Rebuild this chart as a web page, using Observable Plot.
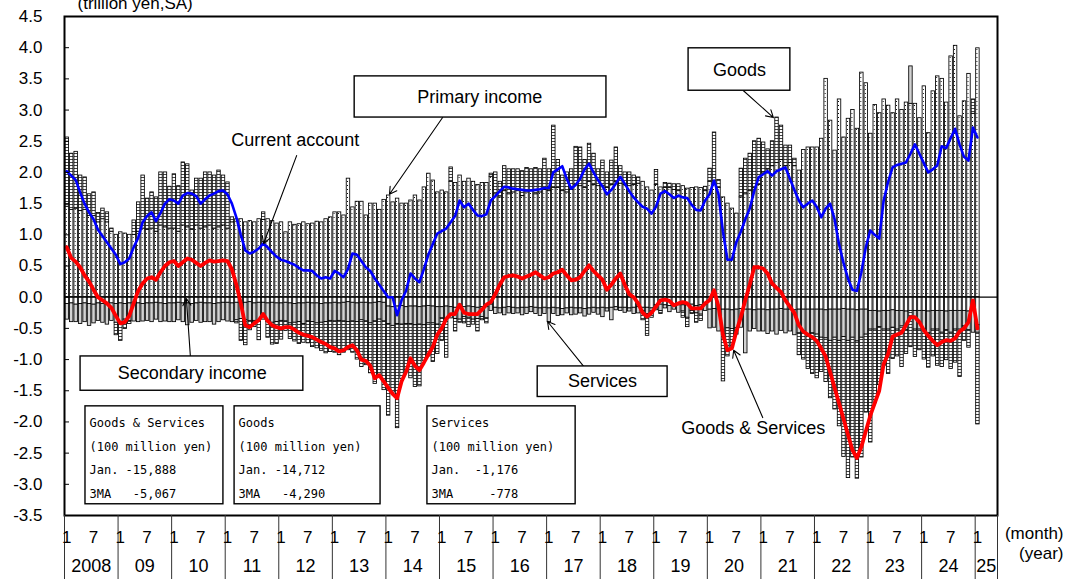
<!DOCTYPE html>
<html><head><meta charset="utf-8">
<style>
html,body{margin:0;padding:0;background:#fff;}
#chart{width:1067px;height:579px;overflow:hidden;}
#chart svg{display:block;}
#chart svg text{white-space:pre;}
</style>
<script src="https://cdn.jsdelivr.net/npm/d3@7"></script>
<script src="https://cdn.jsdelivr.net/npm/@observablehq/plot@0.6"></script>
</head><body><div id="chart"></div>
<script>
// Monthly data, Jan 2008 .. Jan 2025 (trillion yen, SA)
const primaryIncome = [
1.45,1.4,1.42,1.38,1.4,1.3,1.3,1.2,1.25,1.2,1.05,1.0,
1.04,1.02,1.0,1.0,1.05,1.1,1.08,1.1,1.05,1.15,1.12,1.1,
1.1,1.05,1.15,1.12,1.08,1.15,1.1,1.12,1.15,1.1,1.12,1.15,
1.1,1.2,1.25,1.25,1.2,1.22,1.2,1.25,1.24,1.25,1.22,1.18,
1.2,1.04,1.2,1.16,1.17,1.2,1.17,1.18,1.21,1.2,1.25,1.28,
1.36,1.36,1.31,1.9,1.44,1.53,1.53,1.31,1.5,1.5,1.4,1.56,
1.63,1.52,1.58,1.5,1.5,1.55,1.63,1.55,1.76,1.98,1.87,1.68,
1.71,1.68,1.85,1.83,1.95,1.85,1.9,1.85,1.8,1.83,1.83,1.93,
1.65,1.6,1.7,1.65,1.68,1.7,1.62,1.68,1.7,1.65,1.68,1.72,
1.7,1.75,1.75,1.7,1.68,1.72,1.8,1.78,1.75,1.85,1.8,1.78,
1.78,1.75,1.8,1.85,1.82,1.8,1.78,1.8,1.82,1.85,1.76,1.71,
1.8,1.76,1.75,1.75,1.72,1.7,1.78,1.74,1.75,1.76,1.75,1.7,
1.85,1.8,1.75,1.6,1.5,1.42,1.34,1.6,1.65,1.7,1.75,1.8,
2.0,2.05,2.1,2.15,2.2,2.1,2.15,2.1,2.03,2.36,2.4,2.4,
2.4,2.54,3.5,2.83,2.35,3.17,2.56,2.86,3.0,2.7,3.6,3.43,
2.62,3.08,2.95,3.17,3.07,2.95,3.17,3.0,3.12,3.1,3.1,2.87,
3.38,2.63,3.3,3.54,3.5,3.12,3.86,4.03,2.9,3.14,3.58,2.94,
3.99];
const goods = [
1.11,0.9,0.91,0.57,0.52,0.35,0.38,0.15,0.17,0.16,0.05,-0.2,
-0.3,-0.15,-0.05,0.23,0.47,0.85,0.5,0.58,0.55,0.85,0.88,0.67,
0.87,0.73,1.01,1.01,0.63,0.75,0.8,0.88,0.85,0.85,0.91,0.8,
0.74,0.08,-0.05,-0.35,-0.4,-0.15,-0.1,-0.3,0.12,-0.25,-0.35,-0.35,
-0.3,-0.15,-0.25,-0.3,-0.35,-0.3,-0.35,-0.4,-0.4,-0.45,-0.5,-0.5,
-0.5,-0.55,-0.5,-0.45,-0.5,-0.6,-0.75,-0.7,-0.8,-1.0,-0.9,-1.1,
-1.47,-1.07,-1.67,-0.87,-0.77,-0.87,-0.99,-0.99,-0.57,-0.53,-0.62,-0.47,
-0.36,-0.62,0.23,-0.2,-0.05,-0.1,-0.15,-0.08,-0.2,-0.05,-0.08,0.05,
0.35,0.25,0.4,0.4,0.37,0.35,0.4,0.39,0.35,0.42,0.37,0.5,
0.35,1.0,0.45,0.25,0.32,0.33,0.61,0.62,0.45,0.61,0.5,0.27,
0.41,0.25,0.39,0.55,0.28,0.2,0.22,0.15,0.1,-0.15,-0.35,-0.1,
0.24,-0.05,0.08,0.07,0.09,0.11,-0.1,-0.15,-0.05,-0.15,-0.1,0.07,
0.21,0.84,0.13,-0.75,-0.45,-0.3,-0.1,0.46,0.57,0.6,0.75,0.74,
0.48,0.32,0.4,0.73,0.55,0.33,0.28,0.12,-0.35,-0.45,-0.55,-0.65,
-0.7,-0.55,-0.7,-0.92,-1.15,-1.37,-1.92,-2.2,-1.92,-2.2,-1.92,-1.25,
-1.81,-1.18,-0.93,-0.58,-0.71,-0.5,-0.43,-0.65,-0.38,-0.58,-0.44,-0.33,
-0.48,-0.55,-0.43,-0.58,-0.55,-0.48,-0.58,-0.53,-0.76,-0.23,-0.28,0.23,
-1.47];
const services = [
-0.25,-0.3,-0.28,-0.32,-0.3,-0.35,-0.3,-0.28,-0.3,-0.32,-0.28,-0.3,
-0.3,-0.25,-0.28,-0.3,-0.3,-0.28,-0.28,-0.3,-0.27,-0.3,-0.28,-0.3,
-0.3,-0.28,-0.3,-0.35,-0.3,-0.28,-0.32,-0.3,-0.3,-0.33,-0.3,-0.28,
-0.3,-0.3,-0.28,-0.25,-0.28,-0.3,-0.28,-0.3,-0.27,-0.3,-0.32,-0.3,
-0.28,-0.3,-0.32,-0.3,-0.3,-0.33,-0.3,-0.3,-0.32,-0.3,-0.3,-0.28,
-0.3,-0.28,-0.3,-0.32,-0.3,-0.3,-0.28,-0.3,-0.32,-0.3,-0.28,-0.3,
-0.28,-0.3,-0.28,-0.3,-0.27,-0.28,-0.3,-0.28,-0.3,-0.28,-0.27,-0.28,
-0.18,-0.2,-0.18,-0.18,-0.2,-0.16,-0.18,-0.2,-0.18,-0.16,-0.18,-0.1,
-0.1,-0.08,-0.12,-0.1,-0.1,-0.08,-0.12,-0.1,-0.08,-0.1,-0.12,-0.1,
-0.22,-0.1,-0.12,-0.1,-0.08,-0.12,-0.1,-0.08,-0.12,-0.1,-0.08,-0.1,
-0.15,-0.05,-0.2,-0.05,-0.05,-0.08,-0.05,-0.1,-0.1,-0.05,-0.1,-0.05,
-0.08,-0.1,-0.05,-0.1,-0.08,-0.12,-0.1,-0.2,-0.1,-0.12,-0.15,-0.1,
-0.3,-0.3,-0.35,-0.4,-0.3,-0.3,-0.3,-0.3,-0.7,-0.35,-0.3,-0.35,
-0.35,-0.38,-0.35,-0.4,-0.35,-0.38,-0.35,-0.4,-0.38,-0.35,-0.4,-0.38,
-0.4,-0.45,-0.45,-0.5,-0.45,-0.5,-0.45,-0.5,-0.45,-0.5,-0.45,-0.4,
-0.3,-0.3,-0.25,-0.3,-0.3,-0.28,-0.3,-0.25,-0.3,0.6,-0.3,-0.3,
-0.3,-0.35,-0.3,-0.3,-0.35,-0.3,-0.35,-0.3,-0.3,-0.25,-0.3,-0.35,
-0.12];
const secondaryIncome = [
-0.11,-0.1,-0.12,-0.11,-0.1,-0.11,-0.12,-0.1,-0.11,-0.12,-0.1,-0.11,
-0.1,-0.11,-0.1,-0.09,-0.1,-0.11,-0.1,-0.1,-0.09,-0.1,-0.11,-0.1,
-0.1,-0.09,-0.1,-0.1,-0.11,-0.1,-0.09,-0.1,-0.1,-0.11,-0.1,-0.09,
-0.09,-0.1,-0.09,-0.1,-0.09,-0.08,-0.1,-0.09,-0.09,-0.1,-0.09,-0.1,
-0.1,-0.09,-0.1,-0.11,-0.1,-0.1,-0.09,-0.1,-0.1,-0.11,-0.1,-0.1,
-0.09,-0.1,-0.09,-0.08,-0.09,-0.1,-0.09,-0.09,-0.1,-0.09,-0.08,-0.09,
-0.15,-0.16,-0.15,-0.14,-0.16,-0.15,-0.15,-0.16,-0.15,-0.14,-0.15,-0.16,
-0.16,-0.15,-0.16,-0.17,-0.16,-0.16,-0.15,-0.16,-0.17,-0.16,-0.16,-0.12,
-0.17,-0.18,-0.17,-0.16,-0.17,-0.18,-0.17,-0.17,-0.16,-0.17,-0.18,-0.17,
-0.18,-0.17,-0.18,-0.19,-0.18,-0.17,-0.18,-0.18,-0.19,-0.18,-0.17,-0.18,
-0.17,-0.18,-0.17,-0.16,-0.17,-0.17,-0.18,-0.17,-0.16,-0.17,-0.17,-0.18,
-0.13,-0.12,-0.13,-0.14,-0.12,-0.13,-0.13,-0.13,-0.12,-0.14,-0.13,-0.12,
-0.2,-0.19,-0.2,-0.2,-0.2,-0.21,-0.2,-0.19,-0.2,-0.2,-0.21,-0.2,
-0.2,-0.21,-0.2,-0.2,-0.19,-0.2,-0.2,-0.21,-0.2,-0.2,-0.2,-0.2,
-0.2,-0.2,-0.21,-0.2,-0.2,-0.2,-0.19,-0.2,-0.2,-0.21,-0.2,-0.2,
-0.22,-0.22,-0.23,-0.22,-0.22,-0.21,-0.22,-0.22,-0.23,-0.22,-0.22,-0.22,
-0.22,-0.23,-0.22,-0.22,-0.22,-0.23,-0.22,-0.22,-0.22,-0.22,-0.23,-0.22,
-0.45];
const currentAccount3MA = [
2.02,1.95,1.88,1.68,1.5,1.36,1.25,1.08,0.98,0.88,0.78,0.68,
0.53,0.56,0.62,0.8,0.95,1.2,1.3,1.36,1.22,1.35,1.5,1.57,
1.55,1.5,1.63,1.67,1.66,1.62,1.5,1.57,1.63,1.66,1.7,1.71,
1.65,1.5,1.28,1.0,0.75,0.7,0.73,0.78,0.86,0.8,0.72,0.65,
0.6,0.58,0.55,0.52,0.47,0.43,0.43,0.42,0.35,0.3,0.32,0.3,
0.42,0.38,0.32,0.45,0.7,0.68,0.58,0.48,0.42,0.3,0.2,0.1,
0.0,0.0,-0.29,-0.05,0.1,0.38,0.3,0.24,0.45,0.68,0.85,1.02,
1.06,1.1,1.2,1.3,1.55,1.44,1.5,1.4,1.31,1.3,1.33,1.55,
1.62,1.7,1.77,1.76,1.74,1.73,1.72,1.71,1.71,1.72,1.73,1.75,
1.75,2.0,2.05,2.1,1.9,1.74,1.8,1.9,2.05,2.14,2.0,1.88,
1.78,1.65,1.72,1.82,1.93,1.82,1.7,1.6,1.52,1.45,1.42,1.34,
1.45,1.66,1.7,1.65,1.59,1.63,1.6,1.59,1.48,1.4,1.39,1.55,
1.65,1.87,1.65,1.05,0.6,0.6,0.88,1.05,1.25,1.42,1.7,1.92,
1.97,2.02,1.95,2.02,2.05,2.08,1.9,1.72,1.55,1.44,1.5,1.55,
1.45,1.28,1.42,1.5,1.25,0.85,0.55,0.3,0.12,0.1,0.4,0.8,
1.07,1.0,0.94,1.55,1.85,2.08,2.12,2.14,2.16,2.3,2.45,2.3,
2.15,2.0,2.05,2.11,2.42,2.39,2.55,2.7,2.45,2.25,2.19,2.72,
2.56];
const goodsServices3MA = [
0.8,0.63,0.57,0.48,0.35,0.25,0.12,0.0,-0.05,-0.1,-0.17,-0.3,
-0.42,-0.4,-0.3,-0.1,0.1,0.22,0.3,0.32,0.28,0.4,0.5,0.56,
0.58,0.5,0.56,0.62,0.6,0.55,0.5,0.55,0.59,0.57,0.58,0.59,
0.58,0.45,0.2,-0.1,-0.45,-0.48,-0.42,-0.37,-0.27,-0.38,-0.45,-0.48,
-0.5,-0.48,-0.48,-0.52,-0.57,-0.6,-0.62,-0.64,-0.68,-0.72,-0.75,-0.8,
-0.82,-0.87,-0.85,-0.8,-0.77,-0.85,-1.0,-1.02,-1.1,-1.3,-1.25,-1.35,
-1.45,-1.55,-1.62,-1.35,-1.2,-0.98,-1.1,-1.17,-1.05,-0.92,-0.8,-0.6,
-0.5,-0.35,-0.27,-0.27,-0.12,-0.25,-0.27,-0.27,-0.27,-0.2,-0.12,-0.08,
0.05,0.2,0.32,0.34,0.35,0.33,0.3,0.33,0.36,0.4,0.35,0.3,
0.32,0.38,0.4,0.44,0.35,0.27,0.28,0.32,0.42,0.51,0.42,0.35,
0.28,0.12,0.2,0.3,0.38,0.2,0.05,0.0,-0.1,-0.25,-0.31,-0.25,
-0.15,-0.05,-0.04,-0.06,-0.13,-0.1,-0.08,-0.1,-0.18,-0.18,-0.18,-0.1,
-0.05,0.11,-0.15,-0.6,-0.85,-0.82,-0.55,-0.32,-0.05,0.2,0.48,0.48,
0.46,0.38,0.22,0.15,0.08,-0.05,-0.15,-0.25,-0.45,-0.55,-0.6,-0.64,
-0.7,-0.82,-0.95,-1.2,-1.45,-1.7,-1.95,-2.2,-2.45,-2.58,-2.4,-2.15,
-1.9,-1.7,-1.5,-1.07,-0.91,-0.63,-0.6,-0.57,-0.45,-0.32,-0.32,-0.4,
-0.53,-0.62,-0.7,-0.77,-0.72,-0.69,-0.7,-0.66,-0.55,-0.5,-0.4,-0.05,
-0.5];
const yearLabels = ["2008","09","10","11","12","13","14","15","16","17","18","19","20","21","22","23","24","25"];
const monthLabels = ["1","7"];
const yTicks = [-3.5,-3,-2.5,-2,-1.5,-1,-0.5,0,0.5,1,1.5,2,2.5,3,3.5,4,4.5];
const seriesNames = ["Primary income","Secondary income","Services","Goods"];
const infoGS = "Goods & Services\n(100 million yen)\nJan. -15,888\n3MA   -5,067";
const infoG = "Goods\n(100 million yen)\nJan. -14,712\n3MA   -4,290";
const infoS = "Services\n(100 million yen)\nJan.  -1,176\n3MA     -778";

// ---- build tables ----
const nMonths = primaryIncome.length;
const totalSlots = 209;
const seriesArrays = [primaryIncome, secondaryIncome, services, goods];
const barData = [];
for (let i = 0; i < nMonths; i++) {
  seriesArrays.forEach((arr, k) => barData.push({i, s: seriesNames[k], v: arr[i]}));
}
const caLine = currentAccount3MA.map((v, i) => ({x: i + 0.5, v}));
const gsLine = goodsServices3MA.map((v, i) => ({x: i + 0.5, v}));
const yearBounds = d3.range(0, nMonths, 12).concat([totalSlots]);
const monthTicks = [];
yearLabels.forEach((y, k) => {
  monthLabels.forEach((m, j) => {
    const idx = 12 * k + 6 * j;
    if (idx < nMonths) monthTicks.push({x: idx + 0.5, t: m});
  });
});
const yearTicks = yearLabels.map((t, k) => ({x: (12 * k + Math.min(12 * (k + 1), totalSlots)) / 2, t}));

const font = "'Liberation Sans', Arial, sans-serif";
const mono = "'DejaVu Sans Mono', 'Liberation Mono', monospace";

const boxes = [
  {x1: 65.0, x2: 121.4, y1: 2.88, y2: 3.54},
  {x1: 139.8, x2: 162.6, y1: 3.31, y2: 3.99},
  {x1: 3.6, x2: 53.5, y1: -1.5, y2: -0.95},
  {x1: 106.0, x2: 135.1, y1: -1.6, y2: -1.11},
  {x1: 4.7, x2: 35.6, y1: -3.32, y2: -1.75},
  {x1: 38.1, x2: 70.8, y1: -3.32, y2: -1.75},
  {x1: 81.3, x2: 114.5, y1: -3.32, y2: -1.75}
];
const labels = [
  {x: 93.0, y: 3.2, t: "Primary income"},
  {x: 151.2, y: 3.64, t: "Goods"},
  {x: 51.7, y: 2.51, t: "Current account"},
  {x: 28.6, y: -1.22, t: "Secondary income"},
  {x: 120.5, y: -1.35, t: "Services"},
  {x: 154.3, y: -2.1, t: "Goods & Services"}
];
const arrows = [
  {x1: 84.7, y1: 2.88, x2: 72.8, y2: 1.65},
  {x1: 52.0, y1: 2.27, x2: 44.6, y2: 0.86},
  {x1: 152.1, y1: 3.31, x2: 158.8, y2: 2.88},
  {x1: 28.2, y1: -0.95, x2: 27.3, y2: -0.02},
  {x1: 116.3, y1: -1.11, x2: 108.2, y2: -0.39},
  {x1: 156.4, y1: -1.93, x2: 149.9, y2: -0.85}
];
const infos = [
  {x: 5.6, t: infoGS},
  {x: 39.0, t: infoG},
  {x: 82.2, t: infoS}
];

const plot = Plot.plot({
  width: 1067, height: 579,
  marginLeft: 64, marginRight: 70, marginTop: 16, marginBottom: 64,
  style: {fontFamily: font, background: "white", color: "black"},
  x: {type: "linear", domain: [0, totalSlots], axis: null},
  y: {domain: [-3.5, 4.5], axis: null},
  color: {type: "ordinal", domain: seriesNames, range: ["url(#pDots)", "#ffffff", "#d2d2d2", "url(#pStripes)"]},
  marks: [
    Plot.rectY(barData, {x: "i", interval: 1, y: "v", fill: "s", stroke: "black", strokeWidth: 0.85}),
    Plot.ruleY([0], {stroke: "black", strokeWidth: 1.3}),
    Plot.line(caLine, {x: "x", y: "v", stroke: "#0000ff", strokeWidth: 2.6}),
    Plot.line(gsLine, {x: "x", y: "v", stroke: "#ff0000", strokeWidth: 3.8}),
    Plot.arrow(arrows, {x1: "x1", y1: "y1", x2: "x2", y2: "y2", stroke: "black", strokeWidth: 1.1, headLength: 11}),
    Plot.rect(boxes, {x1: "x1", x2: "x2", y1: "y1", y2: "y2", fill: "white", stroke: "black", strokeWidth: 1.4}),
    Plot.text(labels, {x: "x", y: "y", text: "t", fontSize: 18, fill: "black"}),
    Plot.text(infos, {x: "x", y: -1.81, text: "t", fontFamily: mono, fontSize: 12, textAnchor: "start", lineAnchor: "top", lineHeight: 1.975, fill: "black"}),
    Plot.frame({stroke: "black", strokeWidth: 2}),
    Plot.axisY(yTicks, {anchor: "left", tickSize: 5, tickPadding: 22, dx: 5, fontSize: 17, tickFormat: d => d.toFixed(1), stroke: "black"}),
    Plot.ruleX(yearBounds, {y1: -3.5, y2: -4.7, stroke: "#333", strokeWidth: 1}),
    Plot.text(monthTicks, {x: "x", y: -3.5, text: "t", dy: 22, fontSize: 17, fill: "black"}),
    Plot.text(yearTicks, {x: "x", y: -3.5, text: "t", dy: 51, fontSize: 18, fill: "black"}),
    Plot.text(["(month)"], {frameAnchor: "bottom-right", text: d => d, dx: 66, dy: 23, textAnchor: "end", fontSize: 17, fill: "black"}),
    Plot.text(["(year)"], {frameAnchor: "bottom-right", text: d => d, dx: 66, dy: 43, textAnchor: "end", fontSize: 17, fill: "black"}),
    Plot.text(["(trillion yen,SA)"], {frameAnchor: "top-left", text: d => d, dx: 13, dy: -8, textAnchor: "start", lineAnchor: "bottom", fontSize: 17, fill: "black"})
  ]
});

// patterns for bars
const bw = (1067 - 70 - 64) / totalSlots;
const defs = d3.select(plot).insert("defs", ":first-child");
const pd = defs.append("pattern").attr("id", "pDots").attr("patternUnits", "userSpaceOnUse")
  .attr("x", 64).attr("y", 0).attr("width", bw).attr("height", 4);
pd.append("rect").attr("width", bw).attr("height", 4).attr("fill", "white");
pd.append("rect").attr("x", bw / 2 - 0.5).attr("y", 1).attr("width", 1).attr("height", 1).attr("fill", "#000").attr("shape-rendering", "crispEdges");
const ps = defs.append("pattern").attr("id", "pStripes").attr("patternUnits", "userSpaceOnUse")
  .attr("x", 0).attr("y", 0).attr("width", 4).attr("height", 3);
ps.append("rect").attr("width", 4).attr("height", 3).attr("fill", "white");
ps.append("rect").attr("y", 0).attr("width", 4).attr("height", 1).attr("fill", "#444").attr("shape-rendering", "crispEdges");

document.getElementById("chart").appendChild(plot);
</script>
</body></html>
